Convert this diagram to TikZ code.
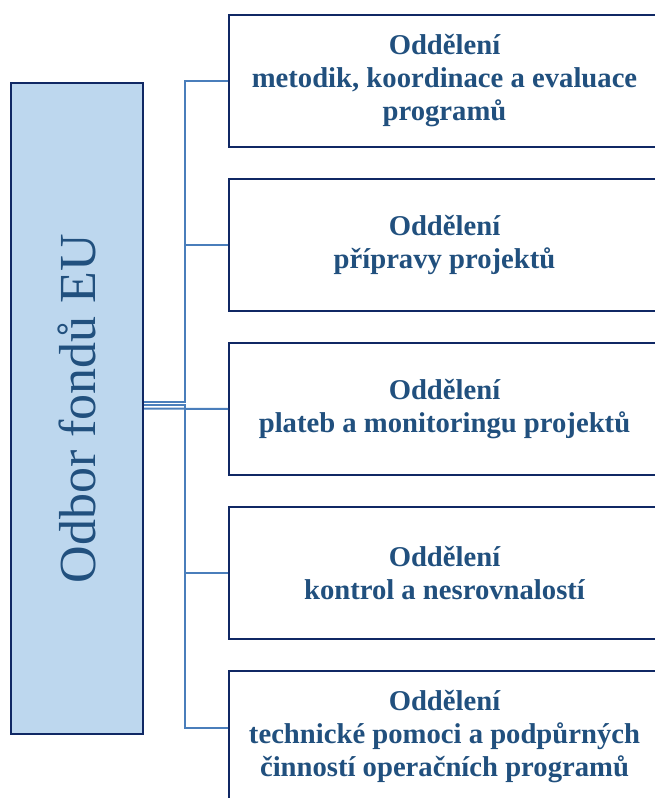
\documentclass[tikz,border=0pt]{standalone}
\usepackage{fontspec}
\setmainfont{Liberation Serif}
\usetikzlibrary{positioning}

\definecolor{navy}{RGB}{16,40,100}
\definecolor{steel}{RGB}{74,126,187}
\definecolor{paleblue}{RGB}{189,215,238}
\definecolor{textblue}{RGB}{33,80,126}

\begin{document}
\begin{tikzpicture}[x=0.75pt,y=-0.75pt,node distance=123pt,on grid,
  every node/.style={text=textblue},
  unit/.style={draw=navy,line width=1.5pt,fill=white,minimum width=323.25pt,minimum height=99pt,
    align=center,font=\bfseries\fontsize{21.5}{24.75}\selectfont},
  head/.style={draw=navy,line width=1.5pt,fill=paleblue,minimum width=488.25pt,minimum height=99pt,
    font=\fontsize{39}{44}\selectfont},
  conn/.style={draw=steel,line width=1.5pt}]
\useasboundingbox (0,0) rectangle (655,798);

\node[head,rotate=90] (odbor) at (77,408.5) {Odbor fondů EU};

\node[unit] (odd1) at (444.5,81) {Oddělení\\metodik, koordinace a evaluace\\programů};
\node[unit] (odd2) [below = of odd1] {Oddělení\\přípravy projektů};
\node[unit] (odd3) [below = of odd2] {Oddělení\\plateb a monitoringu projektů};
\node[unit] (odd4) [below = of odd3] {Oddělení\\kontrol a nesrovnalostí};
\node[unit] (odd5) [below = of odd4] {Oddělení\\technické pomoci a podpůrných\\činností operačních programů};

\coordinate (fork) at (185,408.5);
\coordinate (up1) at ([yshift=4.9pt]odbor.south);
\coordinate (up2) at ([yshift=3pt]odbor.south);

\draw[conn] (up1) -- (up1 -| fork) |- (odd1.west);
\draw[conn] (up1) -- (up1 -| fork) |- (odd2.west);
\draw[conn] (odbor.south) -- (odd3.west);
\draw[conn] (up2) -- (up2 -| fork) |- (odd4.west);
\draw[conn] (up2) -- (up2 -| fork) |- ([yshift=6.75pt]odd5.west);
\end{tikzpicture}
\end{document}
